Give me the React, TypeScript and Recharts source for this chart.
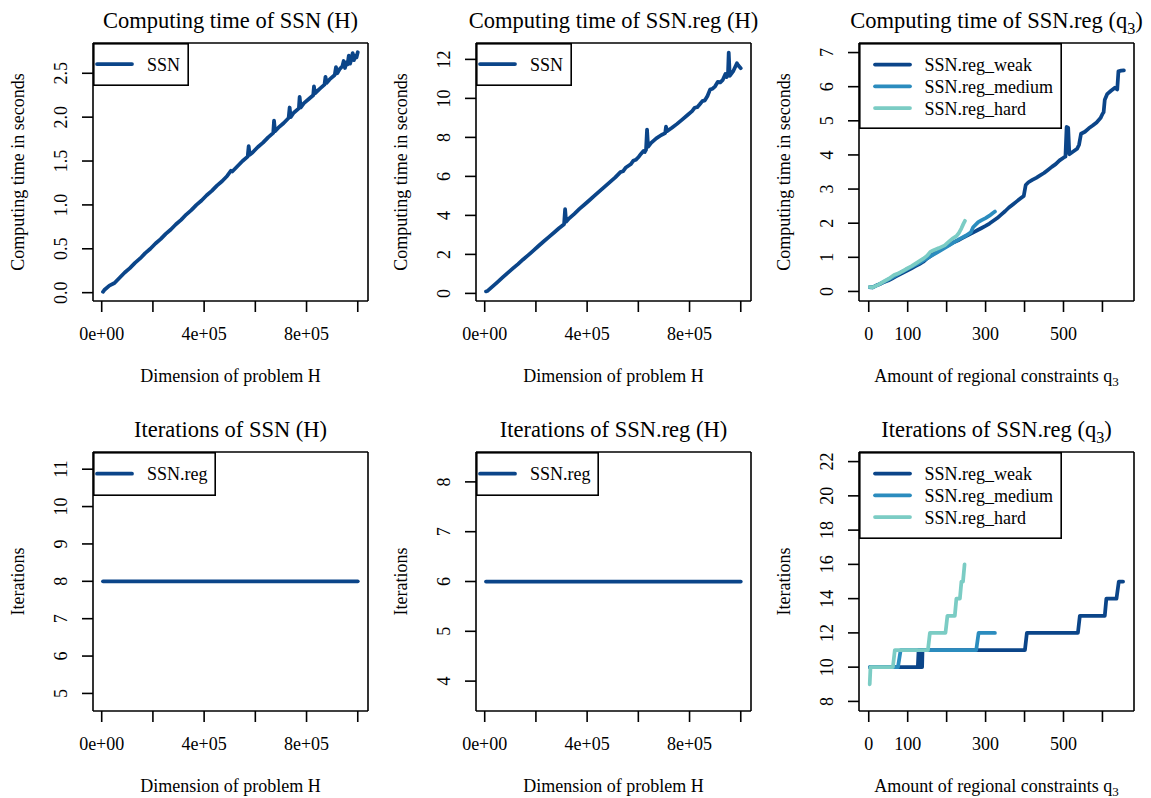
import React from 'react';
import { LineChart, Line, XAxis, YAxis, Legend } from 'recharts';

const FONT = '"Liberation Serif", "Times New Roman", Times, serif';
const DARK = '#0B4589';
const MID = '#2B8CBE';
const LIGHT = '#7BCCC4';

// ---------- Panel 1: computing time of SSN vs H ----------
const ssnTimeH = [5000, 10000, 30000, 50000, 70000, 90000, 110000, 130000, 150000, 170000, 190000, 210000, 230000, 250000, 270000, 290000, 310000, 330000, 350000, 370000, 390000, 410000, 430000, 450000, 470000, 490000, 505000, 510000, 530000, 550000, 570000, 574000, 578000, 590000, 610000, 630000, 650000, 670000, 673000, 677000, 690000, 710000, 730000, 734000, 738000, 750000, 770000, 773000, 777000, 790000, 810000, 826000, 829000, 833000, 850000, 870000, 874000, 878000, 890000, 910000, 915000, 920000, 930000, 940000, 945000, 950000, 955000, 960000, 965000, 970000, 975000, 980000, 985000, 990000, 995000, 1000000];
const ssnTimeSec = [0.01, 0.03, 0.08, 0.11, 0.17, 0.23, 0.28, 0.34, 0.39, 0.45, 0.50, 0.56, 0.61, 0.67, 0.72, 0.78, 0.83, 0.89, 0.94, 1.00, 1.05, 1.11, 1.16, 1.22, 1.27, 1.33, 1.39, 1.38, 1.44, 1.50, 1.55, 1.67, 1.57, 1.60, 1.66, 1.71, 1.77, 1.82, 1.96, 1.84, 1.88, 1.93, 1.99, 2.11, 2.00, 2.05, 2.10, 2.23, 2.11, 2.16, 2.21, 2.25, 2.35, 2.27, 2.32, 2.37, 2.46, 2.39, 2.43, 2.48, 2.57, 2.50, 2.55, 2.58, 2.64, 2.56, 2.62, 2.60, 2.70, 2.61, 2.66, 2.73, 2.65, 2.70, 2.68, 2.74];

// ---------- Panel 2: computing time of SSN.reg vs H ----------
const regTimeH = [5000, 10000, 30000, 50000, 70000, 90000, 110000, 130000, 150000, 170000, 190000, 210000, 230000, 250000, 270000, 290000, 310000, 314000, 318000, 330000, 350000, 370000, 390000, 410000, 430000, 450000, 470000, 490000, 510000, 530000, 540000, 550000, 570000, 580000, 590000, 600000, 610000, 620000, 625000, 630000, 634000, 638000, 650000, 670000, 690000, 705000, 708000, 712000, 730000, 750000, 770000, 790000, 810000, 820000, 830000, 840000, 850000, 860000, 870000, 880000, 890000, 900000, 910000, 920000, 930000, 940000, 945000, 950000, 953000, 957000, 970000, 985000, 990000, 1000000];
const regTimeSec = [0.10, 0.12, 0.35, 0.58, 0.82, 1.05, 1.28, 1.50, 1.74, 1.96, 2.19, 2.43, 2.66, 2.89, 3.11, 3.34, 3.55, 4.32, 3.68, 3.85, 4.08, 4.33, 4.56, 4.79, 5.03, 5.26, 5.49, 5.72, 5.95, 6.22, 6.26, 6.44, 6.62, 6.80, 6.85, 6.98, 7.15, 7.30, 7.25, 7.36, 8.40, 7.52, 7.72, 7.95, 8.12, 8.22, 8.55, 8.32, 8.48, 8.68, 8.90, 9.12, 9.35, 9.52, 9.55, 9.70, 9.86, 9.90, 10.12, 10.45, 10.50, 10.62, 10.85, 10.82, 10.95, 11.25, 11.10, 11.20, 12.35, 11.15, 11.38, 11.80, 11.70, 11.55];

// ---------- Panel 3: computing time vs q3 ----------
const weakTimeQ = [3, 10, 20, 30, 40, 50, 60, 70, 80, 90, 100, 110, 120, 130, 140, 150, 160, 170, 180, 190, 200, 210, 220, 230, 240, 250, 260, 270, 280, 290, 300, 310, 320, 330, 340, 350, 360, 370, 380, 390, 398, 403, 410, 420, 430, 440, 450, 460, 470, 480, 490, 500, 505, 508, 512, 515, 525, 535, 540, 545, 555, 565, 575, 585, 595, 600, 603, 606, 612, 622, 632, 638, 641, 648, 655];
const weakTimeSec = [0.13, 0.12, 0.18, 0.22, 0.28, 0.32, 0.38, 0.44, 0.50, 0.56, 0.62, 0.68, 0.74, 0.80, 0.87, 0.97, 1.05, 1.13, 1.20, 1.27, 1.33, 1.39, 1.45, 1.50, 1.56, 1.62, 1.68, 1.74, 1.80, 1.86, 1.92, 1.99, 2.07, 2.15, 2.25, 2.35, 2.46, 2.55, 2.64, 2.73, 2.80, 3.12, 3.20, 3.27, 3.33, 3.40, 3.47, 3.56, 3.65, 3.73, 3.84, 3.92, 3.95, 4.82, 4.80, 4.02, 4.10, 4.18, 4.30, 4.62, 4.68, 4.78, 4.86, 4.95, 5.08, 5.20, 5.25, 5.62, 5.78, 5.88, 5.97, 5.92, 6.45, 6.47, 6.48];
const mediumTimeQ = [3, 10, 25, 40, 55, 70, 85, 100, 115, 130, 145, 160, 175, 190, 205, 220, 235, 250, 262, 268, 281, 290, 300, 310, 318, 324];
const mediumTimeSec = [0.12, 0.12, 0.20, 0.29, 0.38, 0.47, 0.57, 0.66, 0.75, 0.84, 0.94, 1.04, 1.14, 1.24, 1.34, 1.45, 1.55, 1.64, 1.73, 1.88, 2.03, 2.09, 2.15, 2.22, 2.29, 2.34];
const hardTimeQ = [3, 10, 25, 40, 55, 65, 80, 95, 110, 125, 140, 150, 158, 165, 180, 195, 205, 215, 225, 232, 238, 243, 247];
const hardTimeSec = [0.13, 0.12, 0.20, 0.30, 0.40, 0.48, 0.55, 0.65, 0.74, 0.85, 0.96, 1.05, 1.16, 1.20, 1.27, 1.35, 1.45, 1.55, 1.62, 1.72, 1.85, 1.98, 2.07];

// ---------- Panels 4 & 5: iterations vs H ----------
const iterH = [5000, 100000, 200000, 300000, 400000, 500000, 600000, 700000, 800000, 900000, 1000000];
const ssnIter = [8, 8, 8, 8, 8, 8, 8, 8, 8, 8, 8];
const regIter = [6, 6, 6, 6, 6, 6, 6, 6, 6, 6, 6];

// ---------- Panel 6: iterations vs q3 ----------
const weakIterQ = [3, 126, 128, 129, 130, 131, 132, 133, 134, 135, 136, 137, 138, 139, 401, 406, 537, 542, 606, 610, 636, 642, 653];
const weakIter = [10, 10, 11, 10, 11, 10, 11, 10, 11, 10, 11, 10, 11, 11, 11, 12, 12, 13, 13, 14, 14, 15, 15];
const mediumIterQ = [3, 75, 82, 276, 282, 324];
const mediumIter = [10, 10, 11, 11, 12, 12];
const hardIterQ = [2.5, 4.5, 62, 67, 152, 157, 197, 202, 221, 225, 234, 238, 242, 246];
const hardIter = [9, 10, 10, 11, 11, 12, 12, 13, 13, 14, 14, 15, 15, 16];

// ---------- ticks ----------
const hTicks = [0, 200000, 400000, 600000, 800000, 1000000];
const hTickLabels = ['0e+00', '', '4e+05', '', '8e+05', ''];
const qTicks = [0, 100, 200, 300, 400, 500, 600];
const qTickLabels = ['0', '100', '', '300', '', '500', ''];
const p1YTicks = [0, 0.5, 1, 1.5, 2, 2.5];
const p1YLabels = ['0.0', '0.5', '1.0', '1.5', '2.0', '2.5'];
const p2YTicks = [0, 2, 4, 6, 8, 10, 12];
const p3YTicks = [0, 1, 2, 3, 4, 5, 6, 7];
const p4YTicks = [5, 6, 7, 8, 9, 10, 11];
const p5YTicks = [4, 5, 6, 7, 8];
const p6YTicks = [8, 10, 12, 14, 16, 18, 20, 22];

type Series = { name: string; color: string; x: number[]; y: number[] };

const YW = 92;
const TH = 43;
const RW = 14;
const XH = 92;
const AX = { stroke: '#000', strokeWidth: 1.6 };

function labelOf(ticks: number[], labels: string[] | null, v: number) {
  if (!labels) return String(v);
  const i = ticks.findIndex((t) => Math.abs(t - v) < 1e-9);
  return i >= 0 ? labels[i] : '';
}

type PanelProps = {
  boxLeft: number;
  boxTop: number;
  boxW: number;
  boxH: number;
  xDomain: [number, number];
  xTicks: number[];
  xLabels: string[];
  yDomain: [number, number];
  yTicks: number[];
  yLabels: string[] | null;
  series: Series[];
  title: React.ReactNode;
  xTitle: React.ReactNode;
  yTitle: string;
  legendW: number;
  legendH: number;
  legendRows: number[];
  legendLineX: [number, number];
  legendTextX: number;
};

function Panel(p: PanelProps) {
  const width = YW + p.boxW + RW;
  const height = TH + p.boxH + XH;
  const cx = YW + p.boxW / 2;

  const XTick = (props: any) => {
    const { x, y, payload } = props;
    return (
      <text x={x} y={y + 28} textAnchor="middle" fontFamily={FONT} fontSize={18} fill="#000">
        {labelOf(p.xTicks, p.xLabels, payload.value)}
      </text>
    );
  };
  const YTick = (props: any) => {
    const { x, y, payload } = props;
    const tx = x - 15;
    return (
      <text x={tx} y={y} transform={`rotate(-90, ${tx}, ${y})`} textAnchor="middle" fontFamily={FONT} fontSize={18} fill="#000">
        {labelOf(p.yTicks, p.yLabels, payload.value)}
      </text>
    );
  };

  const legendContent = () => (
    <svg width={p.legendW} height={p.legendH} style={{ display: 'block' }}>
      <rect x={0.8} y={0.8} width={p.legendW - 1.6} height={p.legendH - 1.6} fill="#fff" stroke="#000" strokeWidth={1.6} />
      {p.series.map((s, i) => (
        <g key={s.name}>
          <line x1={p.legendLineX[0]} x2={p.legendLineX[1]} y1={p.legendRows[i]} y2={p.legendRows[i]} stroke={s.color} strokeWidth={3.75} strokeLinecap="round" />
          <text x={p.legendTextX} y={p.legendRows[i] + 6.5} fontFamily={FONT} fontSize={18} fill="#000">
            {s.name}
          </text>
        </g>
      ))}
    </svg>
  );

  return (
    <div style={{ position: 'absolute', left: p.boxLeft - YW, top: p.boxTop - TH }}>
      <LineChart width={width} height={height} margin={{ top: 0, right: 0, bottom: 0, left: 0 }}>
        <XAxis
          xAxisId="b"
          type="number"
          dataKey="x"
          domain={p.xDomain}
          allowDataOverflow
          ticks={p.xTicks}
          interval={0}
          height={XH}
          stroke="#000"
          axisLine={AX}
          tickLine={AX}
          tickSize={11}
          tickMargin={0}
          tick={XTick}
          label={{
            content: () => (
              <text x={cx} y={TH + p.boxH + 81} textAnchor="middle" fontFamily={FONT} fontSize={18} fill="#000">
                {p.xTitle}
              </text>
            ),
          }}
        />
        <XAxis
          xAxisId="t"
          orientation="top"
          type="number"
          dataKey="x"
          domain={p.xDomain}
          allowDataOverflow
          height={TH}
          stroke="#000"
          axisLine={AX}
          tick={false}
          tickLine={false}
          label={{
            content: () => (
              <text x={cx} y={TH - 15.5} textAnchor="middle" fontFamily={FONT} fontSize={22.5} fill="#000">
                {p.title}
              </text>
            ),
          }}
        />
        <YAxis
          yAxisId="l"
          type="number"
          domain={p.yDomain}
          allowDataOverflow
          ticks={p.yTicks}
          interval={0}
          width={YW}
          stroke="#000"
          axisLine={AX}
          tickLine={AX}
          tickSize={11}
          tickMargin={0}
          tick={YTick}
          label={{
            content: () => {
              const lx = YW - 69;
              const ly = TH + p.boxH / 2;
              return (
                <text x={lx} y={ly} transform={`rotate(-90, ${lx}, ${ly})`} textAnchor="middle" fontFamily={FONT} fontSize={18} fill="#000">
                  {p.yTitle}
                </text>
              );
            },
          }}
        />
        <YAxis
          yAxisId="r"
          orientation="right"
          type="number"
          domain={p.yDomain}
          allowDataOverflow
          width={RW}
          stroke="#000"
          axisLine={AX}
          tick={false}
          tickLine={false}
        />
        {p.series.map((s) => (
          <Line
            key={s.name}
            xAxisId="b"
            yAxisId="l"
            data={s.x.map((x, i) => ({ x, y: s.y[i] }))}
            dataKey="y"
            name={s.name}
            type="linear"
            stroke={s.color}
            strokeWidth={3.75}
            strokeLinejoin="round"
            strokeLinecap="round"
            dot={false}
            activeDot={false}
            isAnimationActive={false}
          />
        ))}
        <Legend
          layout="vertical"
          align="center"
          verticalAlign="middle"
          wrapperStyle={{ left: YW, top: TH, width: p.legendW, height: p.legendH, margin: 0, padding: 0 }}
          content={legendContent}
        />
      </LineChart>
    </div>
  );
}

const q3Title = (prefix: string, size: number) => (
  <>
    <tspan>{prefix}(q</tspan>
    <tspan fontSize={size * 0.72} dy={size * 0.28}>3</tspan>
    <tspan dy={-size * 0.28}>)</tspan>
  </>
);

const q3XTitle = (
  <>
    <tspan>Amount of regional constraints q</tspan>
    <tspan fontSize={13} dy={3.5}>3</tspan>
  </>
);

const COLS = [93, 476, 859];
const ROWS = [43, 452];
const BW = 275;
const BH = [258, 259];
const H_DOMAIN: [number, number] = [-34000, 1040000];
const Q_DOMAIN: [number, number] = [-25, 681];

export default function App() {
  const single = { legendRows: [21], legendLineX: [4, 39] as [number, number], legendTextX: 54 };
  const triple = { legendW: 203, legendRows: [21.5, 43.3, 65], legendLineX: [16, 51] as [number, number], legendTextX: 65.5 };
  return (
    <div style={{ position: 'absolute', left: 0, top: 0, width: 1151, height: 798, background: '#fff', overflow: 'hidden' }}>
      <Panel
        boxLeft={COLS[0]} boxTop={ROWS[0]} boxW={BW} boxH={BH[0]}
        xDomain={H_DOMAIN} xTicks={hTicks} xLabels={hTickLabels}
        yDomain={[-0.095, 2.845]} yTicks={p1YTicks} yLabels={p1YLabels}
        series={[{ name: 'SSN', color: DARK, x: ssnTimeH, y: ssnTimeSec }]}
        title="Computing time of SSN (H)" xTitle="Dimension of problem H" yTitle="Computing time in seconds"
        legendW={96} legendH={43} {...single}
      />
      <Panel
        boxLeft={COLS[1]} boxTop={ROWS[0]} boxW={BW} boxH={BH[0]}
        xDomain={H_DOMAIN} xTicks={hTicks} xLabels={hTickLabels}
        yDomain={[-0.39, 12.84]} yTicks={p2YTicks} yLabels={null}
        series={[{ name: 'SSN', color: DARK, x: regTimeH, y: regTimeSec }]}
        title="Computing time of SSN.reg (H)" xTitle="Dimension of problem H" yTitle="Computing time in seconds"
        legendW={96} legendH={43} {...single}
      />
      <Panel
        boxLeft={COLS[2]} boxTop={ROWS[0]} boxW={BW} boxH={BH[0]}
        xDomain={Q_DOMAIN} xTicks={qTicks} xLabels={qTickLabels}
        yDomain={[-0.28, 7.28]} yTicks={p3YTicks} yLabels={null}
        series={[
          { name: 'SSN.reg_weak', color: DARK, x: weakTimeQ, y: weakTimeSec },
          { name: 'SSN.reg_medium', color: MID, x: mediumTimeQ, y: mediumTimeSec },
          { name: 'SSN.reg_hard', color: LIGHT, x: hardTimeQ, y: hardTimeSec },
        ]}
        title={q3Title('Computing time of SSN.reg ', 22.5)} xTitle={q3XTitle} yTitle="Computing time in seconds"
        legendH={86} {...triple}
      />
      <Panel
        boxLeft={COLS[0]} boxTop={ROWS[1]} boxW={BW} boxH={BH[1]}
        xDomain={H_DOMAIN} xTicks={hTicks} xLabels={hTickLabels}
        yDomain={[4.53, 11.46]} yTicks={p4YTicks} yLabels={null}
        series={[{ name: 'SSN.reg', color: DARK, x: iterH, y: ssnIter }]}
        title="Iterations of SSN (H)" xTitle="Dimension of problem H" yTitle="Iterations"
        legendW={123} legendH={44} {...single} legendRows={[21.7]}
      />
      <Panel
        boxLeft={COLS[1]} boxTop={ROWS[1]} boxW={BW} boxH={BH[1]}
        xDomain={H_DOMAIN} xTicks={hTicks} xLabels={hTickLabels}
        yDomain={[3.4, 8.6]} yTicks={p5YTicks} yLabels={null}
        series={[{ name: 'SSN.reg', color: DARK, x: iterH, y: regIter }]}
        title="Iterations of SSN.reg (H)" xTitle="Dimension of problem H" yTitle="Iterations"
        legendW={123} legendH={44} {...single} legendRows={[21.7]}
      />
      <Panel
        boxLeft={COLS[2]} boxTop={ROWS[1]} boxW={BW} boxH={BH[1]}
        xDomain={Q_DOMAIN} xTicks={qTicks} xLabels={qTickLabels}
        yDomain={[7.44, 22.56]} yTicks={p6YTicks} yLabels={null}
        series={[
          { name: 'SSN.reg_weak', color: DARK, x: weakIterQ, y: weakIter },
          { name: 'SSN.reg_medium', color: MID, x: mediumIterQ, y: mediumIter },
          { name: 'SSN.reg_hard', color: LIGHT, x: hardIterQ, y: hardIter },
        ]}
        title={q3Title('Iterations of SSN.reg ', 22.5)} xTitle={q3XTitle} yTitle="Iterations"
        legendH={87} {...triple}
      />
    </div>
  );
}
